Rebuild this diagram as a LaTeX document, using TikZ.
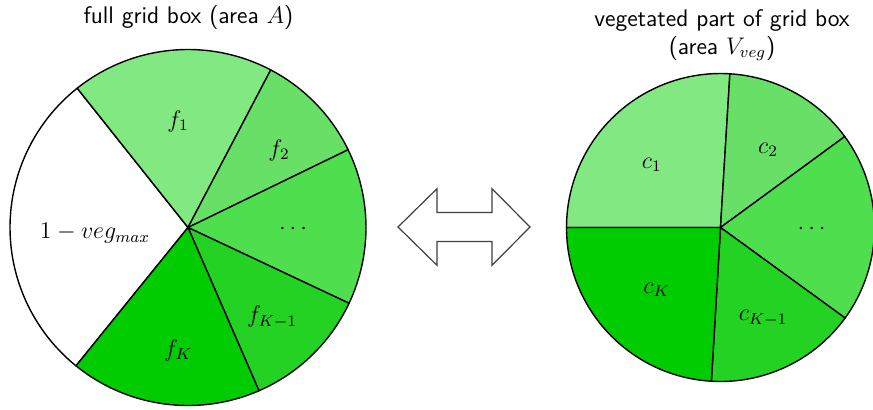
\documentclass[tikz,border=0pt]{standalone}
\usepackage{tikz}
\definecolor{gA}{RGB}{130,232,130}
\definecolor{gB}{RGB}{104,224,104}
\definecolor{gC}{RGB}{78,222,78}
\definecolor{gD}{RGB}{36,210,36}
\definecolor{gE}{RGB}{0,204,0}
\tikzset{
  wedge/.style={draw=black, line width=0.7pt, line join=round},
  lab/.style={font=\large, inner sep=0pt},
  ttl/.style={font=\large\sffamily, inner sep=0pt, align=center},
  dblarrow/.style={draw=black!75, line width=0.6pt, fill=white, line join=miter}
}
\newcommand{\mywedge}[5]{% center, r, a1, a2, color
  \filldraw[wedge, fill=#5] (#1) -- ++(#3:#2) arc[start angle=#3, end angle=#4, radius=#2] -- cycle;}
\begin{document}
\begin{tikzpicture}[x=0.5pt,y=0.5pt]
\useasboundingbox (0,0) rectangle (873,409);
\coordinate (L) at (188,181.5);
\coordinate (R) at (720.5,181.5);
% left pie
\mywedge{L}{178}{128.5}{231}{white}
\mywedge{L}{178}{62.3}{128.5}{gA}
\mywedge{L}{178}{25.9}{62.3}{gB}
\mywedge{L}{178}{-25.2}{25.9}{gC}
\mywedge{L}{178}{-66.5}{-25.2}{gD}
\mywedge{L}{178}{-129}{-66.5}{gE}
% right pie
\mywedge{R}{154}{86.5}{180}{gA}
\mywedge{R}{154}{36.2}{86.5}{gB}
\mywedge{R}{154}{-36}{36.2}{gC}
\mywedge{R}{154}{-93.4}{-36}{gD}
\mywedge{R}{154}{180}{266.6}{gE}
% labels left
\node[lab] (f1) at (178,288) {$f_1$};
\node[lab] (f2) at (279,259) {$f_2$};
\node[lab] (fd) at (293,180) {$\cdots$};
\node[lab] (fk1) at (272,92) {$f_{K-1}$};
\node[lab] (fk) at (178,59) {$f_K$};
\node[lab] (veg) at (95,176) {$1-veg_{max}$};
% labels right
\node[lab] (c1) at (651.7,244) {$c_1$};
\node[lab] (c2) at (768,259) {$c_2$};
\node[lab] (cd) at (811.7,180) {$\cdots$};
\node[lab] (ck1) at (763,91) {$c_{K-1}$};
\node[lab] (ck) at (656.7,119) {$c_K$};
% titles
\node[ttl] (tl) at (188.5,391) {full grid box (area $A$)};
\node[ttl] (tr) at (722,374) {vegetated part of grid box\\(area $V_{veg}$)};
% double arrow
\draw[dblarrow] (398,182) -- (437,220.3) -- (437,196.5) -- (492,196.5) -- (492,220.3)
  -- (530,182) -- (492,143.7) -- (492,167.5) -- (437,167.5) -- (437,143.7) -- cycle;
\end{tikzpicture}
\end{document}
